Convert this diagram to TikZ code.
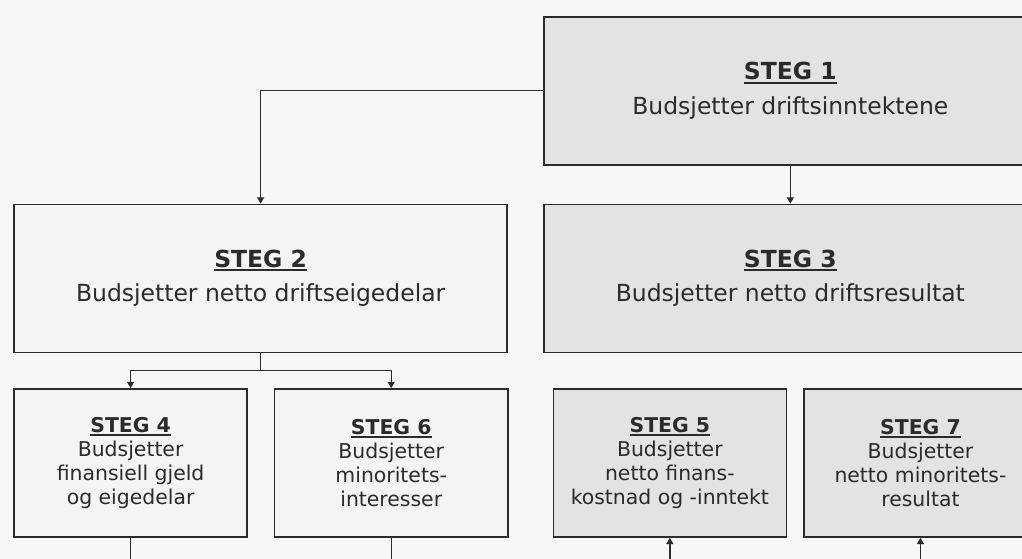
\documentclass[tikz,border=0pt]{standalone}
\usepackage{fontspec}
\setmainfont{DejaVu Sans}
\usetikzlibrary{arrows.meta, positioning, calc}
\definecolor{paper}{HTML}{F7F7F7}
\definecolor{boxgray}{HTML}{E3E3E3}
\definecolor{boxwhite}{HTML}{F4F4F4}
\definecolor{ink}{HTML}{2B2B2B}
\tikzstyle{bigstep} = [rectangle, draw=ink, line width=1.1pt, text=ink, align=center, minimum width=12.325cm, minimum height=3.7cm, font=\fontsize{16.7}{20}\selectfont]
\tikzstyle{smallstep} = [rectangle, draw=ink, line width=1.1pt, text=ink, align=center, minimum width=5.825cm, minimum height=3.7cm, font=\fontsize{14.5}{17.2}\selectfont]
\tikzstyle{flow} = [line width=1pt, ink, -{Triangle[length=4.5pt, width=5pt]}]
\tikzstyle{link} = [line width=1pt, ink]
% underlined step label
\newcommand{\steg}[1]{\setbox0\hbox{\textbf{STEG #1}}\rlap{\raisebox{-2.6pt}{\rule{\wd0}{1.2pt}}}\box0}

\begin{document}
\begin{tikzpicture}[x=0.025cm, y=-0.025cm]

	\path[use as bounding box, fill=paper] (0,0) rectangle (1022,559);
	\clip (0,0) rectangle (1022,559);

	% Top steps
	\node (steg1) [bigstep, fill=boxgray, anchor=north west] at (543,16) {\steg{1}\\[4.4pt]Budsjetter driftsinntektene};
	\node (steg3) [bigstep, fill=boxgray, below=0.95cm of steg1] {\steg{3}\\[4.4pt]Budsjetter netto driftsresultat};
	\node (steg2) [bigstep, fill=boxwhite, left=0.875cm of steg3] {\steg{2}\\[4.4pt]Budsjetter netto driftseigedelar};

	% Lower steps
	\node (steg4) [smallstep, fill=boxwhite, below=0.875cm of steg2.south west, anchor=north west] {\steg{4}\\Budsjetter\\finansiell gjeld\\og eigedelar};
	\node (steg6) [smallstep, fill=boxwhite, right=0.65cm of steg4] {\steg{6}\\Budsjetter\\minoritets-\\interesser};
	\node (steg5) [smallstep, fill=boxgray, right=1.1cm of steg6] {\steg{5}\\Budsjetter\\netto finans-\\kostnad og -inntekt};
	\node (steg7) [smallstep, fill=boxgray, right=0.4cm of steg5] {\steg{7}\\Budsjetter\\netto minoritets-\\resultat};

	% Arrows - from step 1
	\draw[flow] (steg1.west) -| (steg2.north);
	\draw[flow] (steg1.south) -- (steg3.north);

	% Arrows - from step 2
	\coordinate (fork) at ($(steg2.south)!0.5!(steg2.south |- steg4.north)$);
	\draw[link] (steg2.south) -- (fork);
	\draw[flow] (fork) -| (steg4.north);
	\draw[flow] (fork) -| (steg6.north);

	% Lines running off the page
	\coordinate (edge) at (0,575);
	\draw[link] (steg4.south) -- (steg4.south |- edge);
	\draw[link] (steg6.south) -- (steg6.south |- edge);
	\draw[flow] (steg5.south |- edge) -- (steg5.south);
	\draw[flow] (steg7.south |- edge) -- (steg7.south);

\end{tikzpicture}
\end{document}
